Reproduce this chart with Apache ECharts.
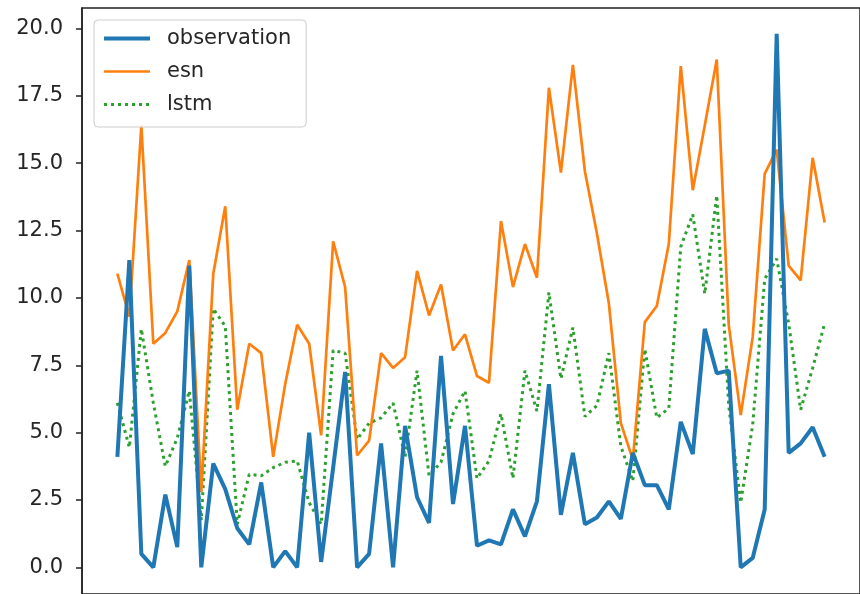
<!DOCTYPE html>
<html>
<head>
<meta charset="utf-8">
<title>observation / esn / lstm</title>
<script src="https://cdn.jsdelivr.net/npm/echarts@6/dist/echarts.min.js"></script>
<style>
  html, body { margin: 0; padding: 0; background: #fff; }
  #main { width: 860px; height: 594px; }
</style>
</head>
<body>
<div id="main"></div>
<script>
// values, one per time step (0..59)
var observation = [
  4.1, 11.4, 0.5, 0.0, 2.7, 0.75, 11.2, 0.0, 3.85, 2.9,
  1.45, 0.85, 3.15, 0.0, 0.6, 0.0, 5.0, 0.2, 3.7, 7.25,
  0.0, 0.5, 4.6, 0.0, 5.25, 2.6, 1.65, 7.85, 2.35, 5.25,
  0.8, 1.0, 0.85, 2.15, 1.15, 2.45, 6.8, 1.95, 4.25, 1.6,
  1.85, 2.45, 1.8, 4.25, 3.05, 3.05, 2.15, 5.4, 4.2, 8.85,
  7.2, 7.3, 0.0, 0.35, 2.15, 19.8, 4.25, 4.6, 5.2, 4.1
];
var esn = [
  10.9, 9.3, 16.4, 8.3, 8.7, 9.5, 11.4, 2.8, 10.9, 13.4,
  5.85, 8.3, 7.95, 4.1, 6.8, 9.0, 8.3, 4.9, 12.1, 10.4,
  4.15, 4.7, 7.95, 7.4, 7.8, 11.0, 9.35, 10.5, 8.05, 8.65,
  7.1, 6.85, 12.85, 10.4, 12.0, 10.75, 17.8, 14.65, 18.65, 14.7,
  12.4, 9.8, 5.35, 4.0, 9.1, 9.7, 12.0, 18.6, 14.0, 16.4,
  18.85, 9.0, 5.65, 8.55, 14.6, 15.5, 11.2, 10.65, 15.2, 12.8
];
var lstm = [
  6.1, 4.45, 8.85, 6.1, 3.75, 4.8, 6.55, 1.75, 9.6, 8.95,
  1.6, 3.45, 3.4, 3.7, 3.9, 3.95, 2.4, 1.6, 8.05, 7.95,
  4.75, 5.35, 5.55, 6.1, 4.1, 7.3, 3.4, 3.9, 5.7, 6.55,
  3.3, 3.95, 5.7, 3.3, 7.3, 5.8, 10.2, 7.0, 8.9, 5.6,
  6.0, 7.95, 4.5, 3.2, 8.1, 5.55, 5.9, 11.9, 13.1, 10.15,
  13.8, 6.0, 2.4, 5.3, 10.7, 11.45, 9.05, 5.85, 7.4, 9.05
];
var yTicks = [0, 2.5, 5, 7.5, 10, 12.5, 15, 17.5, 20];

function pairs(arr) {
  return arr.map(function (v, i) { return [i, v]; });
}

var chart = echarts.init(document.getElementById("main"));
chart.setOption({
  animation: false,
  backgroundColor: "#fff",
  grid: {
    show: true,
    left: 82,
    top: 8,
    width: 788,
    height: 586,
    borderColor: "#222",
    borderWidth: 1.5,
    containLabel: false
  },
  legend: {
    orient: "vertical",
    left: 94,
    top: 20,
    padding: [8, 15, 12, 8],
    itemWidth: 46,
    itemHeight: 14,
    itemGap: 12,
    itemStyle: { opacity: 0 }, // only the line in the legend, no marker
    lineStyle: { width: "inherit" },
    backgroundColor: "rgba(255,255,255,0.85)",
    borderColor: "#cccccc",
    borderWidth: 1,
    borderRadius: 4,
    textStyle: {
      color: "#262626",
      fontFamily: "DejaVu Sans",
      fontSize: 21,
      lineHeight: 21,
      padding: [0, 0, 0, 12]
    },
    data: ["observation", "esn", "lstm"]
  },
  xAxis: {
    type: "value",
    min: -2.95,
    max: 61.95,
    axisLine: { show: false },
    axisTick: { show: false },
    axisLabel: { show: false },
    splitLine: { show: false }
  },
  yAxis: {
    type: "value",
    min: -0.99,
    max: 20.76,
    axisLine: { show: true, onZero: false, lineStyle: { color: "#222", width: 1.5 } },
    axisTick: {
      show: true,
      length: 6,
      customValues: yTicks,
      lineStyle: { color: "#222", width: 1.5 }
    },
    axisLabel: {
      margin: 19,
      color: "#262626",
      fontFamily: "DejaVu Sans",
      fontSize: 21,
      customValues: yTicks,
      formatter: function (v) { return v.toFixed(1); }
    },
    splitLine: { show: false }
  },
  series: [
    {
      name: "observation",
      type: "line",
      symbol: "none",
      data: pairs(observation),
      itemStyle: { color: "#1f77b4" },
      lineStyle: { color: "#1f77b4", width: 4 },
      z: 3
    },
    {
      name: "esn",
      type: "line",
      symbol: "none",
      data: pairs(esn),
      itemStyle: { color: "#ff7f0e" },
      lineStyle: { color: "#ff7f0e", width: 2.7 },
      z: 2
    },
    {
      name: "lstm",
      type: "line",
      symbol: "none",
      data: pairs(lstm),
      itemStyle: { color: "#2ca02c" },
      lineStyle: { color: "#2ca02c", width: 3, type: [3, 4] },
      z: 1
    }
  ]
});
</script>
</body>
</html>
